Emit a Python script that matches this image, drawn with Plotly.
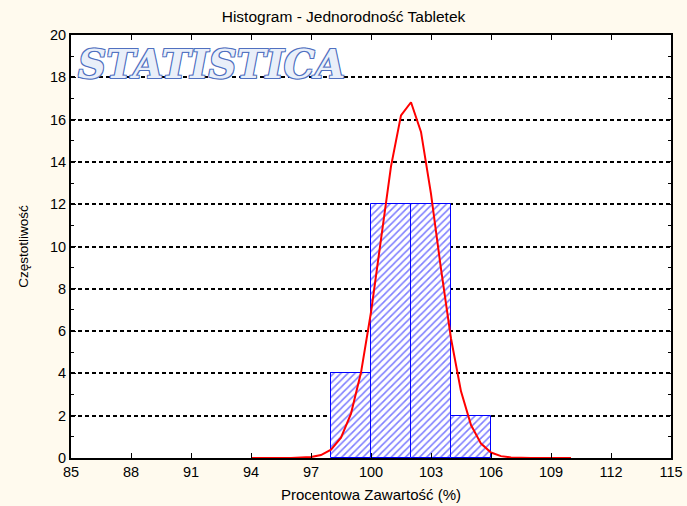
import plotly.graph_objects as go

# Histogram bins (percent content) and counts
bin_left = [98, 100, 102, 104]
bin_right = [100, 102, 104, 106]
counts = [4, 12, 12, 2]

# Fitted normal curve (expected frequency per bin width)
curve_x = [94, 95, 96, 97, 97.5, 98, 98.5, 99, 99.5, 100, 100.5, 101, 101.5,
           102, 102.5, 103, 103.5, 104, 104.5, 105, 105.5, 106, 106.5, 107,
           108, 109, 110]
curve_y = [0.0, 0.0001, 0.003, 0.044, 0.14, 0.39, 0.96, 2.10, 4.04, 6.89,
           10.37, 13.79, 16.20, 16.82, 15.42, 12.49, 8.94, 5.65, 3.15, 1.56,
           0.68, 0.26, 0.089, 0.027, 0.002, 0.0001, 0.0]

x_ticks = [85, 88, 91, 94, 97, 100, 103, 106, 109, 112, 115]
y_ticks = [0, 2, 4, 6, 8, 10, 12, 14, 16, 18, 20]

centers = [(a + b) / 2 for a, b in zip(bin_left, bin_right)]
widths = [b - a for a, b in zip(bin_left, bin_right)]

FONT = "Liberation Sans, Arial, sans-serif"

fig = go.Figure()
fig.add_trace(go.Bar(
    x=centers, y=counts, width=widths,
    marker=dict(
        color="white",
        line=dict(color="#0000ff", width=1),
        pattern=dict(shape="/", fgcolor="#0000ff", bgcolor="white",
                     size=5, solidity=0.32),
    ),
    showlegend=False, hoverinfo="skip",
))
fig.add_trace(go.Scatter(
    x=curve_x, y=curve_y, mode="lines",
    line=dict(color="#ff0000", width=2),
    showlegend=False, hoverinfo="skip",
))

fig.add_annotation(
    text="<b><i>STATISTICA</i></b>",
    xref="paper", yref="paper", x=0.008, y=0.99,
    xanchor="left", yanchor="top", showarrow=False,
    font=dict(family="DejaVu Serif, serif", size=39, color="#e9eff9",
              shadow="1px 1px 0 #5070c0, -1px -1px 0 #5070c0, "
                     "1px -1px 0 #5070c0, -1px 1px 0 #5070c0"),
)

fig.update_layout(
    width=687, height=506,
    margin=dict(l=71, r=16, t=35, b=48, autoexpand=False),
    paper_bgcolor="#fffaee",
    plot_bgcolor="white",
    bargap=0,
    title=dict(text="Histogram - Jednorodność Tabletek",
               x=0.5, xanchor="center", y=0.968, yanchor="middle",
               font=dict(family=FONT, size=15.5, color="black")),
    font=dict(family=FONT, size=14.5, color="black"),
)

fig.update_xaxes(
    range=[85, 115], tickvals=x_ticks, ticktext=[str(v) for v in x_ticks],
    automargin=False,
    showgrid=False, zeroline=False,
    showline=True, linecolor="black", linewidth=2, mirror="ticks",
    ticks="inside", ticklen=5, tickcolor="black", tickwidth=1,
    tickfont=dict(size=14.5),
    title=dict(text="Procentowa Zawartość (%)", font=dict(size=15), standoff=10),
)
fig.update_yaxes(
    range=[0, 20], tickvals=y_ticks, ticktext=[str(v) for v in y_ticks],
    automargin=False,
    showgrid=True, gridcolor="black", gridwidth=2, griddash="4px,3px",
    zeroline=False,
    showline=True, linecolor="black", linewidth=2, mirror="ticks",
    ticks="inside", ticklen=5, tickcolor="black", tickwidth=1,
    minor=dict(dtick=1, ticks="inside", ticklen=3, tickcolor="black",
               showgrid=False),
    tickfont=dict(size=14.5),
    title=dict(text="Częstotliwość", font=dict(size=13.5), standoff=18),
)

fig.write_html("out.html")
